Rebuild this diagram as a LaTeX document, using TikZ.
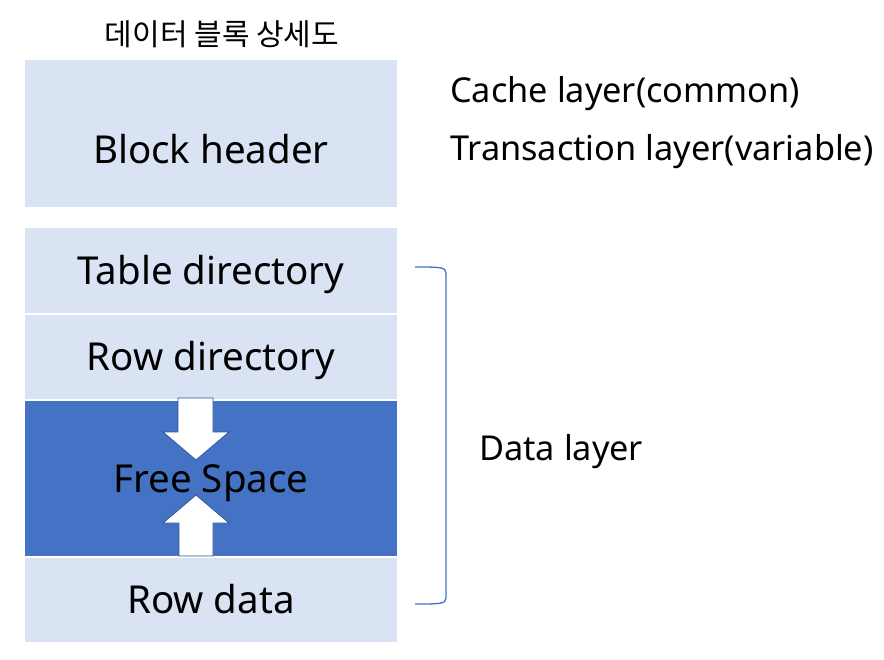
\documentclass[tikz,border=0pt]{standalone}
\usepackage{fontspec}
\setmainfont{Noto Sans}
\newfontfamily\krfont{Noto Sans CJK KR}
\definecolor{lightblue}{HTML}{DAE3F3}
\definecolor{darkblue}{HTML}{4472C4}
\definecolor{edgeblue}{HTML}{2F5597}
\begin{document}
\begin{tikzpicture}[x=1pt,y=-1pt,
  box/.style={fill=lightblue, inner sep=0pt, minimum width=372pt, text height=27.5pt, text depth=0pt, font=\fontsize{38.5}{44}\selectfont},
  darkbox/.style={box, fill=darkblue},
  label/.style={anchor=base west, inner sep=0pt, font=\fontsize{34.3}{40}\selectfont},
  bigarrow/.style={fill=white, draw=edgeblue, line width=0.8pt},
  bracket/.style={draw=darkblue, line width=1.3pt}]
\useasboundingbox (0,0) rectangle (884,659);
\node[inner sep=0pt, font=\krfont\fontsize{30}{34}\selectfont] (title) at (222,34) {데이터 블록 상세도};
\node[box, minimum height=147pt] (hdr) at (211,133.5) {\raisebox{-16.5pt}{Block header}};
\node[box, minimum height=85pt] (tdir) at (211,270.5) {Table directory};
\node[box, minimum height=84pt] (rdir) at (211,357) {Row directory};
\node[darkbox, minimum height=155pt] (free) at (211,478.5) {Free Space};
\node[box, minimum height=84pt] (rdata) at (211,600) {Row data};
\draw[bigarrow] (178,398) -- (213,398) -- (213,432) -- (229,432) -- (196,460) -- (163,432) -- (178,432) -- cycle;
\draw[bigarrow] (179,556) -- (213,556) -- (213,523) -- (229,523) -- (196,495) -- (163,523) -- (179,523) -- cycle;
\node[label] (cache) at (450,102) {Cache layer(common)};
\node[label] (trans) at (450,160) {Transaction layer(variable)};
\node[label] (data) at (479,460) {Data layer};
\coordinate (bt) at (415,267);
\coordinate (bb) at (415,604);
\draw[bracket] (bt) .. controls (440,267) and (446,267) .. (446,273) -- (446,598) .. controls (446,604) and (440,604) .. (bb);
\end{tikzpicture}
\end{document}
